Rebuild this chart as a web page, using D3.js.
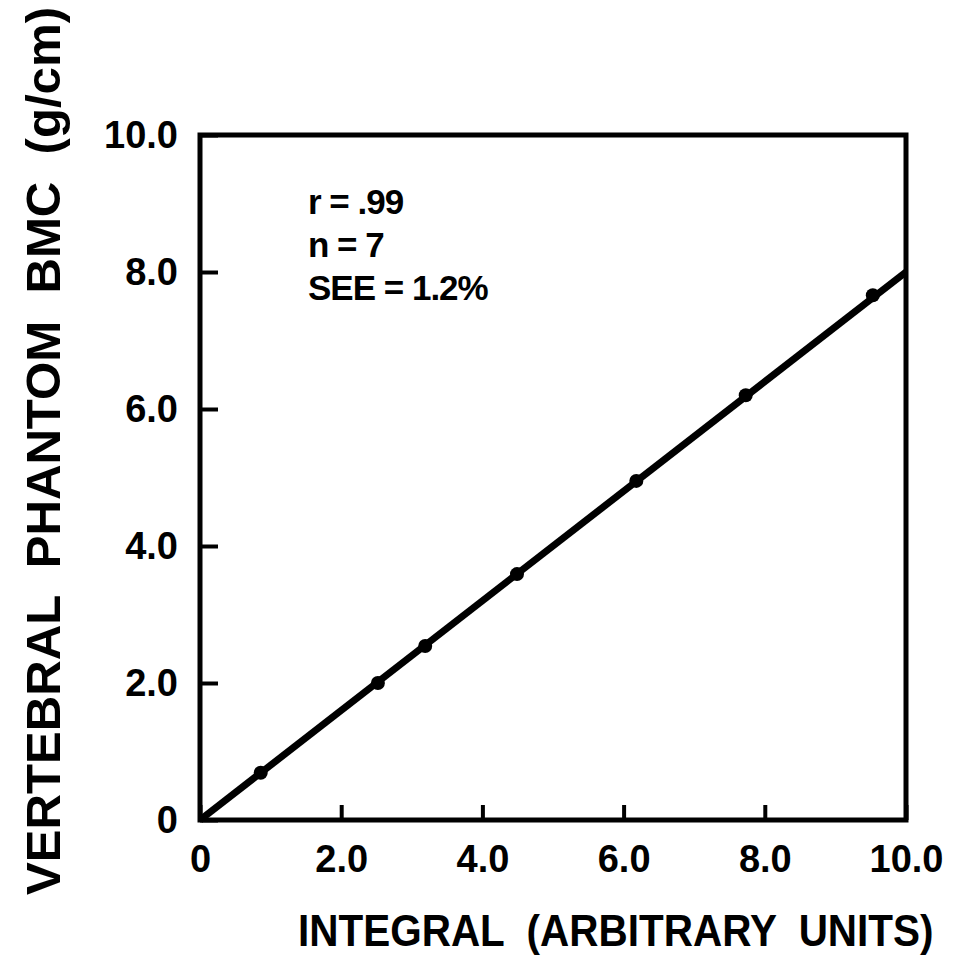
<!DOCTYPE html>
<html>
<head>
<meta charset="utf-8">
<script src="https://cdn.jsdelivr.net/npm/d3@7"></script>
<style>
  html, body { margin: 0; padding: 0; background: #fff; }
  svg { display: block; }
  text { font-family: "Liberation Sans", Arial, sans-serif; fill: #000; white-space: pre; }
</style>
</head>
<body>
<svg id="chart" width="958" height="969"></svg>
<script>
// Phantom calibration: integral vs vertebral phantom BMC
const integral = [0.86, 2.52, 3.19, 4.49, 6.18, 7.73, 9.53];
const bmc = [0.69, 2.00, 2.54, 3.59, 4.95, 6.20, 7.66];
const fitX = [0, 10];
const fitY = [0, 8.0];
const tickValues = [0, 2, 4, 6, 8, 10];
const stats = ['r = .99', 'n = 7', 'SEE = 1.2%'];

const W = 958, H = 969;
const M = { top: 135, right: 52, bottom: 149, left: 200 };

const svg = d3.select('#chart');
const x = d3.scaleLinear().domain([0, 10]).range([M.left, W - M.right]);
const y = d3.scaleLinear().domain([0, 10]).range([H - M.bottom, M.top]);
const fmt = d => d === 0 ? '0' : d.toFixed(1);

// x axis, ticks point inward
const xa = svg.append('g')
  .attr('transform', `translate(0,${y(0)})`)
  .call(d3.axisBottom(x).tickValues(tickValues).tickSize(-15).tickPadding(25).tickFormat(fmt));
xa.select('.domain').remove();
xa.selectAll('line').attr('stroke', '#000').attr('stroke-width', 4);
xa.selectAll('text')
  .style('font-size', '38px').style('font-weight', 'bold')
  .attr('fill', '#000');

const ya = svg.append('g')
  .attr('transform', `translate(${x(0)},0)`)
  .call(d3.axisLeft(y).tickValues(tickValues).tickSize(-18).tickPadding(22).tickFormat(fmt));
ya.select('.domain').remove();
ya.selectAll('line').attr('stroke', '#000').attr('stroke-width', 4);
ya.selectAll('text')
  .style('font-size', '38px').style('font-weight', 'bold')
  .attr('fill', '#000');

// frame
svg.append('rect')
  .attr('x', x(0)).attr('y', y(10))
  .attr('width', x(10) - x(0)).attr('height', y(0) - y(10))
  .attr('fill', 'none').attr('stroke', '#000').attr('stroke-width', 5);

// regression line
const line = d3.line().x(d => x(d[0])).y(d => y(d[1]));
svg.append('path')
  .datum(d3.zip(fitX, fitY))
  .attr('d', line)
  .attr('fill', 'none').attr('stroke', '#000').attr('stroke-width', 7);

// points
svg.append('g').selectAll('circle')
  .data(d3.zip(integral, bmc))
  .enter().append('circle')
  .attr('cx', d => x(d[0])).attr('cy', d => y(d[1]))
  .attr('r', 7).attr('fill', '#000');

// stats text
svg.append('g').selectAll('text')
  .data(stats)
  .enter().append('text')
  .attr('x', 308).attr('y', (d, i) => 214 + i * 43)
  .style('font-size', '35px').style('font-weight', 'bold')
  .style('letter-spacing', '-1px')
  .text(d => d);

// axis titles (horizontally squeezed to mimic the condensed lettering)
svg.append('text')
  .attr('transform', 'translate(298,946) scale(0.92,1)')
  .style('font-size', '44px').style('font-weight', 'bold')
  .text('INTEGRAL  (ARBITRARY  UNITS)');

svg.append('text')
  .attr('transform', 'translate(60,895) rotate(-90)')
  .attr('textLength', 888).attr('lengthAdjust', 'spacingAndGlyphs')
  .style('font-size', '48px').style('font-weight', 'bold')
  .text('VERTEBRAL  PHANTOM  BMC  (g/cm)');
</script>
</body>
</html>
